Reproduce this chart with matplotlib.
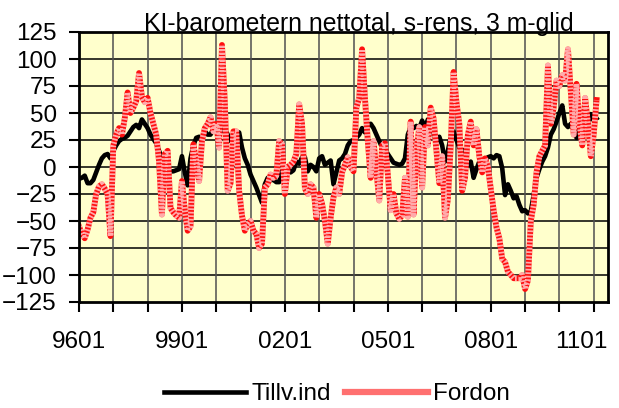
import numpy as np
import pandas as pd
import matplotlib
matplotlib.use('Agg')
import matplotlib.pyplot as plt
from matplotlib.lines import Line2D
import matplotlib.transforms as mtransforms

plt.rcParams['font.family'] = ['Liberation Sans', 'DejaVu Sans']

# monthly categories, Jan 1996 .. Feb 2011
months = pd.period_range('1996-01', periods=182, freq='M').strftime('%y%m').tolist()
tick_labels = ['9601', '9901', '0201', '0501', '0801', '1101']

tillv_ind = [
    -11, -10, -8, -15, -15, -12, -5, 2, 8, 11,
    12, 8, 15, 20, 24, 26, 27, 29, 33, 37,
    39, 36, 44, 40, 36, 30, 26, 22, 15, 8,
    2, -2, -4, -4, -3, -2, 10, -5, -17, 8,
    20, 27, 28, 25, 33, 30, 30, 36, 38, 30,
    35, 36, 30, 24, 26, 30, 32, 18, 8, 2,
    -7, -13, -19, -26, -33, -16, -10, -12, -12, -14,
    -14, -4, 0, 0, -5, -3, 5, 3, 9, 9,
    -4, 2, 0, -4, 8, 10, 2, 4, 6, -16,
    -5, 6, 8, 12, 20, 24, 25, 27, 30, 36,
    32, 38, 40, 36, 30, 24, 18, 17, 12, 8,
    4, 3, 2, 3, 8, 30, 37, 36, 38, 36,
    43, 36, 44, 35, 30, 24, 28, 20, 5, 15,
    28, 33, 25, 18, 16, 10, 2, 5, -10, -2,
    5, 3, 7, 9, 10, 8, 11, 10, -1, -26,
    -16, -22, -29, -27, -35, -41, -40, -43, -41, -26,
    -10, -2, 5, 10, 18, 30, 35, 42, 50, 57,
    40, 37, 40, 35, 27, 40, 38, 37, 40, 49,
    43, 45,
]

fordon = [
    -55, -62, -66, -58, -47, -42, -25, -18, -16, -20,
    -25, -64, 20, 30, 36, 30, 45, 69, 50, 55,
    61, 87, 65, 60, 64, 50, 40, 30, 5, -44,
    12, 15, -38, -42, -45, -47, -13, -40, -59, -55,
    21, 5, -13, 24, 36, 40, 46, 33, 40, 18,
    113, 60, -22, -15, 33, 33, -22, -45, -59, -53,
    -50, -59, -62, -75, -71, -19, -16, -7, -10, -8,
    24, 21, -25, 0, 2, 5, 12, 58, 40, -20,
    -25, -16, -19, -47, -25, -34, -50, -71, -47, -28,
    -19, -25, -5, 2, 9, 0, -4, 55, 64, 109,
    64, 24, -10, 24, -4, -31, 20, 22, -7, -40,
    -25, -43, -48, -45, -10, -46, 42, -44, 15, 37,
    -19, 37, 20, 55, 45, 15, -15, 10, -47, -30,
    20, 88, 60, 40, -22, -10, 30, 42, 20, 35,
    10, -5, 8, 0, -20, -40, -56, -66, -85, -88,
    -97, -100, -103, -103, -103, -100, -113, -105, -50, -35,
    -5, 10, 15, 20, 94, 40, 55, 80, 75, 85,
    80, 109, 70, 30, 77, 40, 20, 64, 40, 10,
    30, 62,
]

x = np.arange(len(months))

fig = plt.figure(figsize=(6.19, 4.08), dpi=100)
ax = fig.add_axes([79 / 619, 1 - 302 / 408, (608 - 79) / 619, (302 - 32) / 408])
ax.set_facecolor('#FFFFCC')

# grid
for yv in range(-100, 125, 25):
    ax.axhline(yv, color='black', lw=1.1, zorder=1)
for xv in range(12, 185, 12):
    ax.axvline(xv, color='#505050', lw=1.1, zorder=1)

ax.plot(x, tillv_ind, color='black', lw=3.3, solid_joinstyle='round', zorder=3)
# Fordon: red/white patterned thick line
ax.plot(x, fordon, color='#ff1010', lw=4.2, zorder=4)
ax.plot(x, fordon, color='white', lw=4.2, ls=(0, (0.3, 0.3)), alpha=0.65, zorder=5)

ax.set_xlim(0, 185)
ax.set_ylim(-125, 125)
ax.set_yticks(range(-125, 126, 25))
ax.set_xticks(range(0, 181, 12))
ax.set_xticklabels([months[i] if months[i] in tick_labels[:-1] else '' for i in range(0, 181, 12)])

for s in ax.spines.values():
    s.set_linewidth(2)
    s.set_color('black')
    s.set_zorder(6)

tick_len, tick_pad = 7, 14
ax.tick_params(axis='y', direction='out', length=tick_len, width=1.5, pad=9, labelsize=17.5)
ax.tick_params(axis='x', direction='out', length=tick_len, width=1.5, pad=tick_pad, labelsize=17.5)

# last label sits a little inward in the original
off = mtransforms.ScaledTranslation(-12 / 100, -(tick_len + tick_pad) / 72, fig.dpi_scale_trans)
ax.text(180, 0, tick_labels[-1], transform=ax.get_xaxis_transform() + off,
        ha='center', va='top', fontsize=17.5)

fig.text(359 / 619, 1 - 31 / 408, 'KI-barometern nettotal, s-rens, 3 m-glid',
         ha='center', va='baseline', fontsize=17.8)

h1 = Line2D([], [], color='black', lw=3.3)
h2 = Line2D([], [], color='#ff7070', lw=4.5)
fig.legend([h1, h2], ['Tillv.ind', 'Fordon'], loc='center', bbox_to_anchor=(0.544, 0.034),
           ncol=2, frameon=False, fontsize=17.5, handlelength=3.4, handletextpad=0.2,
           columnspacing=0.6)

fig.savefig('out.png', dpi=100)
